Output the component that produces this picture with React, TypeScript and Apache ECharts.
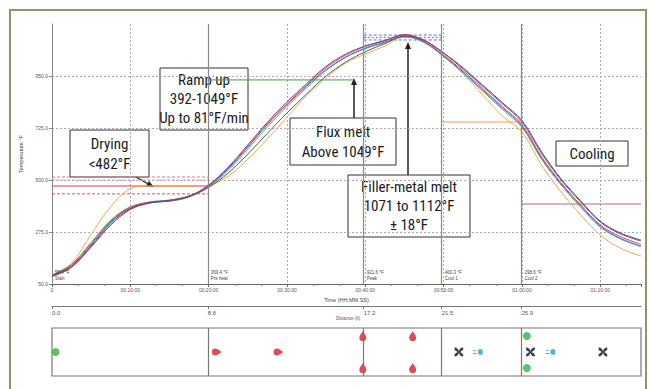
import React, { useEffect, useRef } from "react";
import * as echarts from "echarts";

// ---------- data ----------
const timeMin = [0, 2.5, 5, 7.5, 10, 12.5, 15, 17.5, 20, 22.5, 25, 27.5, 30, 32.5, 35, 37.5, 40, 42.5, 45, 47.5, 50, 52.5, 55, 57.5, 60, 62.5, 65, 67.5, 70, 72.5, 75.2];

const tcBlue = [85, 128, 219, 318, 379, 405, 413, 431, 474, 548, 642, 740, 826, 905, 978, 1032, 1071, 1097, 1123, 1097, 1037, 967, 889, 812, 734, 595, 483, 388, 301, 249, 214];
const tcPurple = [82, 122, 210, 305, 372, 400, 410, 428, 478, 556, 652, 750, 838, 916, 992, 1045, 1080, 1104, 1128, 1105, 1048, 980, 905, 830, 752, 615, 500, 405, 318, 268, 236];
const tcRed = [88, 132, 225, 322, 382, 404, 410, 430, 476, 552, 646, 744, 830, 910, 986, 1040, 1078, 1102, 1130, 1100, 1040, 972, 895, 818, 740, 600, 488, 392, 306, 256, 222];
const tcGreen = [90, 136, 230, 326, 384, 402, 408, 426, 470, 542, 634, 730, 818, 898, 974, 1030, 1068, 1094, 1120, 1095, 1034, 962, 884, 806, 728, 590, 478, 382, 296, 246, 212];
const tcGrey = [86, 126, 214, 312, 376, 402, 412, 430, 468, 530, 612, 702, 790, 872, 950, 1010, 1055, 1090, 1122, 1104, 1050, 985, 910, 835, 758, 622, 505, 410, 322, 272, 240];
const tcOrange = [85, 140, 265, 385, 462, 474, 474, 474, 478, 517, 590, 678, 772, 865, 941, 1006, 1045, 1080, 1119, 1106, 1037, 959, 868, 777, 708, 565, 448, 349, 262, 206, 171];

const tempTickMin = 50;
const tempTickMax = 1175;
const tempTickStep = 225;
const timeMax = 75.2;
const timeTickStep = 10;

const distanceTicks = [0, 8.6, 17.2, 21.5, 25.9];
const distanceMax = 32.5;
const zoneBoundaryFt = [8.6, 17.2, 21.5, 25.9];

// limit lines: zone (start ft, end ft) and temperature
const limitStartFt = [0, 0, 0, 0, 8.6, 17.2, 17.2, 17.2, 21.5, 25.9];
const limitEndFt = [8.6, 8.6, 8.6, 8.6, 16.7, 21.5, 21.5, 21.5, 25.9, 32.5];
const limitTemp = [513, 500, 474, 440, 933, 1127, 1117, 1106, 751, 396];

const zoneNames = ["Start", "Pre heat", "Peak", "Cool 1", "Cool 2"];
const zoneTemps = ["58.4 °F", "369.4 °F", "921.6 °F", "400.3 °F", "298.6 °F"];

// strip markers (distance ft, row)
const rows = ["bottom", "mid", "top"];
const blowerFt = [0.2, 26.2, 26.2];
const blowerRow = ["mid", "top", "bottom"];
const heaterFt = [9.1, 12.5, 17.15, 17.15, 19.9, 19.9];
const heaterRow = ["mid", "mid", "top", "bottom", "top", "bottom"];
const fanFt = [22.45, 26.4, 30.4];
const fanRow = ["mid", "mid", "mid"];
const coolerFt = [23.5, 27.5];
const coolerRow = ["mid", "mid"];

// ---------- styles ----------
const FT_PER_MIN = distanceMax / timeMax;
const limitStyles = [
  { color: "#e07a92", type: [3, 2] },
  { color: "#e89ab0", type: [3, 2] },
  { color: "#d83a50", type: "solid" },
  { color: "#e0505a", type: [3, 2] },
  { color: "#3a9a45", type: "solid" },
  { color: "#5a6ee0", type: [3, 2] },
  { color: "#c04a7a", type: [2, 2] },
  { color: "#5a6ee0", type: [3, 2] },
  { color: "#f0a050", type: "solid" },
  { color: "#a07090", type: "solid" },
];

const GRID_LEFT = 52;
const GRID_RIGHT = 9;
const PLOT_W = 650 - GRID_LEFT - GRID_RIGHT;
const NARROW = '"Liberation Sans Narrow", "Arial Narrow", "Roboto Condensed", "Liberation Sans", sans-serif';

const FLAME = "path://M5,0 C6,3 10,6 10,11 A5,5 0 1 1 0,11 C0,6 4,3 5,0 Z";
const FAN = "path://M10,8 C7,1 4,0 1,1 C0,4 1,7 8,10 C1,13 0,16 1,19 C4,20 7,19 10,12 C13,19 16,20 19,19 C20,16 19,13 12,10 C19,7 20,4 19,1 C16,0 13,1 10,8 Z";
const COOLER = "path://M8,5 A4,4 0 1 1 16,5 A4,4 0 1 1 8,5 Z M0,2.5 H6 V3.7 H0 Z M0,6.3 H6 V7.5 H0 Z";

function fmtTime(v: number) {
  if (v === 0) return "0";
  const h = Math.floor(v / 60);
  const m = Math.round(v - h * 60);
  return `${String(h).padStart(2, "0")}:${String(m).padStart(2, "0")}:00`;
}

function box(x: number, y: number, w: number, h: number, lines: string[], lh: number, fs: number) {
  const children: any[] = [
    { type: "rect", shape: { x, y, width: w, height: h }, style: { fill: "#fff", stroke: "#333", lineWidth: 1 } },
  ];
  const totalH = lines.length * lh;
  lines.forEach((t, i) => {
    children.push({
      type: "text",
      x: x + w / 2,
      y: y + (h - totalH) / 2 + i * lh + lh / 2,
      style: { text: t, fill: "#1a1a1a", font: `${fs}px ${NARROW}`, textAlign: "center", textVerticalAlign: "middle" },
    });
  });
  return { type: "group", children };
}

function arrowUp(x: number, y0: number, y1: number) {
  return {
    type: "group",
    children: [
      { type: "line", shape: { x1: x, y1: y0, x2: x, y2: y1 + 5 }, style: { stroke: "#222", lineWidth: 1.5 } },
      { type: "polygon", shape: { points: [[x, y1], [x - 3, y1 + 7], [x + 3, y1 + 7]] }, style: { fill: "#222" } },
    ],
  };
}

export default function App() {
  const ref = useRef<HTMLDivElement>(null);
  useEffect(() => {
    document.body.style.margin = "0";
    const chart = echarts.init(ref.current!, undefined, { renderer: "svg" });
    const toPx = (t: number) => GRID_LEFT + (t / timeMax) * PLOT_W;

    const tempSeries = [
      { name: "TC1", data: tcOrange, color: "#f2a65a" },
      { name: "TC2", data: tcGreen, color: "#55b25a" },
      { name: "TC3", data: tcBlue, color: "#4a6fd8" },
      { name: "TC4", data: tcRed, color: "#e0435b" },
      { name: "TC5", data: tcGrey, color: "#5a5a5a" },
      { name: "TC6", data: tcPurple, color: "#7a3f92" },
    ].map((s, idx) => ({
      type: "line",
      name: s.name,
      xAxisIndex: 0,
      yAxisIndex: 0,
      showSymbol: false,
      smooth: 0.35,
      data: timeMin.map((t, i) => [t, s.data[i]]),
      lineStyle: { color: s.color, width: 1 },
      itemStyle: { color: s.color },
      z: 3,
      ...(idx === 0
        ? {
            markLine: {
              silent: true,
              symbol: "none",
              label: { show: false },
              lineStyle: { color: "#8a8a8a", type: "solid", width: 1.2 },
              data: zoneBoundaryFt.map((d) => ({ xAxis: d / FT_PER_MIN })),
            },
          }
        : {}),
    }));

    const limitSeries = limitTemp.map((v, i) => ({
      type: "line",
      xAxisIndex: 0,
      yAxisIndex: 0,
      showSymbol: false,
      silent: true,
      data: [
        [limitStartFt[i] / FT_PER_MIN, v],
        [limitEndFt[i] / FT_PER_MIN, v],
      ],
      lineStyle: { color: limitStyles[i].color, type: limitStyles[i].type as any, width: 1 },
      z: 2,
    }));

    const stripSeries = [
      {
        type: "scatter",
        xAxisIndex: 1,
        yAxisIndex: 1,
        symbol: "circle",
        symbolSize: 8,
        itemStyle: { color: "#35b14a" },
        data: blowerFt.map((d, i) => [d, blowerRow[i]]),
        markLine: {
          silent: true,
          symbol: "none",
          label: { show: false },
          lineStyle: { color: "#777", type: "solid", width: 1.2 },
          data: zoneBoundaryFt.map((d) => ({ xAxis: d })),
        },
      },
      {
        type: "scatter",
        xAxisIndex: 1,
        yAxisIndex: 1,
        symbol: FLAME,
        symbolSize: [7, 10],
        itemStyle: { color: "#d8202a" },
        data: heaterFt.map((d, i) => ({ value: [d, heaterRow[i]], symbolRotate: heaterRow[i] === "mid" ? -90 : 0 })),
      },
      {
        type: "scatter",
        xAxisIndex: 1,
        yAxisIndex: 1,
        symbol: FAN,
        symbolSize: 9,
        itemStyle: { color: "#111" },
        data: fanFt.map((d, i) => [d, fanRow[i]]),
      },
      {
        type: "scatter",
        xAxisIndex: 1,
        yAxisIndex: 1,
        symbol: COOLER,
        symbolSize: [10, 6],
        itemStyle: { color: "#2a9fd6" },
        data: coolerFt.map((d, i) => [d, coolerRow[i]]),
      },
    ];

    const zoneStartsFt = [0, ...zoneBoundaryFt];
    const zoneLabels = zoneStartsFt.map((d, i) => ({
      type: "text",
      x: toPx(d / FT_PER_MIN) + 3,
      y: 270,
      style: { text: `${zoneTemps[i]}\n${zoneNames[i]}`, fill: "#444", font: `4.5px "Liberation Sans", sans-serif`, lineHeight: 5.5 },
      z: 10,
    }));

    const option: any = {
      animation: false,
      backgroundColor: "#fff",
      grid: [
        { left: GRID_LEFT, right: GRID_RIGHT, top: 24, height: 260 },
        { left: GRID_LEFT, right: GRID_RIGHT, top: 328, height: 48, show: true, borderColor: "#777", borderWidth: 1.2, backgroundColor: "#fff" },
      ],
      xAxis: [
        {
          type: "value",
          gridIndex: 0,
          min: 0,
          max: timeMax,
          interval: timeTickStep,
          name: "Time (HH:MM:SS)",
          nameLocation: "middle",
          nameGap: 13,
          nameTextStyle: { fontSize: 5.5, color: "#444", fontFamily: "Liberation Sans" },
          axisLine: { lineStyle: { color: "#666", width: 1 } },
          axisTick: { length: 3, lineStyle: { color: "#666" } },
          minorTick: { show: true, splitNumber: 3, length: 2, lineStyle: { color: "#888" } },
          axisLabel: { formatter: fmtTime, fontSize: 5, color: "#555", margin: 3, showMaxLabel: false, fontFamily: "Liberation Sans" },
          splitLine: { show: true, showMaxLine: false, showMinLine: false, lineStyle: { color: "#aaa", type: [2, 2], width: 1 } },
        },
        {
          type: "value",
          gridIndex: 1,
          position: "top",
          offset: 22,
          min: 0,
          max: distanceMax,
          axisLine: { show: true, lineStyle: { color: "#777", width: 1.2 } },
          axisTick: { show: true, inside: true, length: 3, customValues: distanceTicks, lineStyle: { color: "#777" } },
          axisLabel: { show: true, inside: true, customValues: distanceTicks, formatter: (v: number) => v.toFixed(1), fontSize: 6, color: "#555", align: "left", margin: 4, fontFamily: "Liberation Sans" },
          splitLine: { show: false },
        },
      ],
      yAxis: [
        {
          type: "value",
          gridIndex: 0,
          min: tempTickMin,
          max: tempTickMax,
          interval: tempTickStep,
          name: "Temperature °F",
          nameLocation: "middle",
          nameRotate: 90,
          nameGap: 28,
          nameTextStyle: { fontSize: 5.5, color: "#444", fontFamily: "Liberation Sans" },
          axisLine: { show: true, lineStyle: { color: "#888", width: 1 } },
          axisTick: { show: true, length: 3, lineStyle: { color: "#888" } },
          axisLabel: { formatter: (v: number) => v.toFixed(1), fontSize: 5, color: "#555", margin: 4, showMaxLabel: false, fontFamily: "Liberation Sans" },
          splitLine: { show: true, showMaxLine: false, showMinLine: false, lineStyle: { color: "#aaa", type: [2, 2], width: 1 } },
        },
        {
          type: "category",
          gridIndex: 1,
          data: rows,
          show: false,
        },
      ],
      series: [...limitSeries, ...tempSeries, ...stripSeries],
      graphic: [
        { type: "rect", shape: { x: 10, y: 10, width: 636, height: 400 }, style: { fill: "none", stroke: "#9c8c68", lineWidth: 2 }, z: 0 },
        ...zoneLabels,
        { type: "text", x: 348, y: 318, style: { text: "Distance (ft)", fill: "#555", font: `4.5px "Liberation Sans", sans-serif`, textAlign: "center", textVerticalAlign: "middle" } },
        arrowUp(354, 118, 78),
        arrowUp(408, 175, 42),
        {
          type: "group",
          children: [
            { type: "line", shape: { x1: 136, y1: 177, x2: 150, y2: 185 }, style: { stroke: "#222", lineWidth: 1.3 } },
            { type: "polygon", shape: { points: [[154, 187], [146, 186], [149, 181]] }, style: { fill: "#222" } },
          ],
        },
        box(160, 68, 88, 62, ["Ramp up", "392-1049°F", "Up to 81°F/min"], 19, 15),
        box(70, 130, 79, 47, ["Drying", "<482°F"], 20, 15),
        box(290, 118, 106, 47, ["Flux melt", "Above 1049°F"], 20, 15),
        box(348, 175, 122, 62, ["Filler-metal melt", "1071 to 1112°F", "± 18°F"], 19, 15),
        box(556, 141, 72, 25, ["Cooling"], 20, 15),
      ],
    };
    chart.setOption(option);
    return () => chart.dispose();
  }, []);
  return <div ref={ref} style={{ position: "fixed", left: 0, top: 0, width: 650, height: 389 }} />;
}
